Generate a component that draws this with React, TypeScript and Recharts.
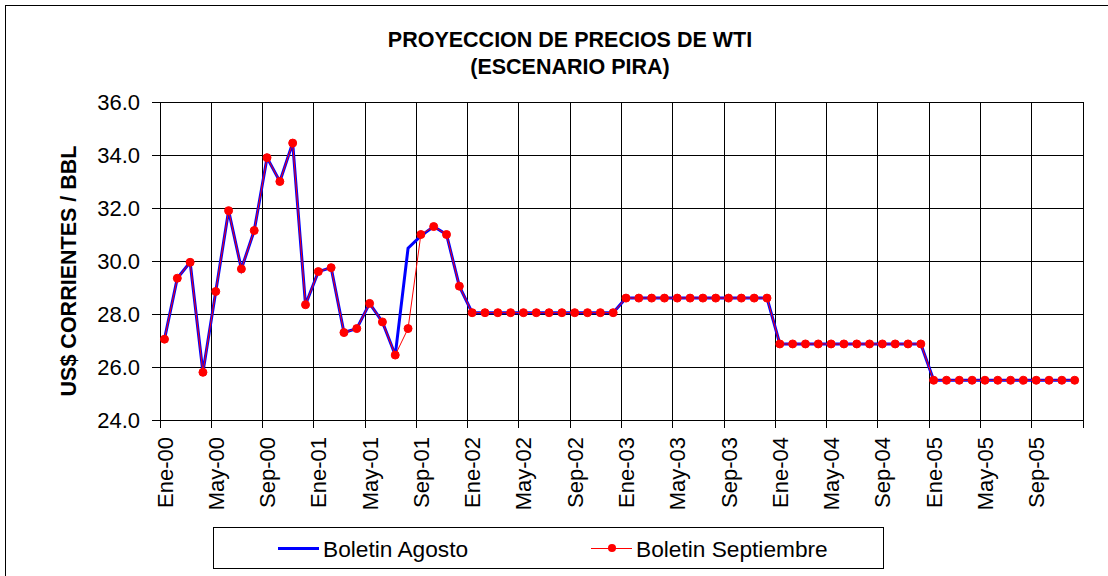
import React from 'react';
import { LineChart, Line, XAxis, YAxis, CartesianGrid } from 'recharts';

const monthNames = ['Ene', 'Feb', 'Mar', 'Abr', 'May', 'Jun', 'Jul', 'Ago', 'Sep', 'Oct', 'Nov', 'Dic'];
const years = ['00', '01', '02', '03', '04', '05'];

const xTickLabels = [
  'Ene-00', 'May-00', 'Sep-00', 'Ene-01', 'May-01', 'Sep-01',
  'Ene-02', 'May-02', 'Sep-02', 'Ene-03', 'May-03', 'Sep-03',
  'Ene-04', 'May-04', 'Sep-04', 'Ene-05', 'May-05', 'Sep-05',
];

const yTicks = [24, 26, 28, 30, 32, 34, 36];

const boletinSeptiembre = [
  27.05, 29.35, 29.95, 25.8, 28.85, 31.9, 29.7, 31.15, 33.9, 33.0, 34.45, 28.35,
  29.6, 29.75, 27.3, 27.45, 28.4, 27.7, 26.45, 27.45, 31.0, 31.3, 31.0, 29.05,
  28.05, 28.05, 28.05, 28.05, 28.05, 28.05, 28.05, 28.05, 28.05, 28.05, 28.05, 28.05,
  28.6, 28.6, 28.6, 28.6, 28.6, 28.6, 28.6, 28.6, 28.6, 28.6, 28.6, 28.6,
  26.87, 26.87, 26.87, 26.87, 26.87, 26.87, 26.87, 26.87, 26.87, 26.87, 26.87, 26.87,
  25.5, 25.5, 25.5, 25.5, 25.5, 25.5, 25.5, 25.5, 25.5, 25.5, 25.5, 25.5,
];

const boletinAgosto = [
  27.05, 29.35, 29.95, 25.8, 28.85, 31.9, 29.7, 31.15, 33.9, 33.0, 34.45, 28.35,
  29.6, 29.75, 27.3, 27.45, 28.4, 27.7, 26.45, 30.48, 30.95, 31.3, 31.0, 29.05,
  28.05, 28.05, 28.05, 28.05, 28.05, 28.05, 28.05, 28.05, 28.05, 28.05, 28.05, 28.05,
  28.6, 28.6, 28.6, 28.6, 28.6, 28.6, 28.6, 28.6, 28.6, 28.6, 28.6, 28.6,
  26.87, 26.87, 26.87, 26.87, 26.87, 26.87, 26.87, 26.87, 26.87, 26.87, 26.87, 26.87,
  25.5, 25.5, 25.5, 25.5, 25.5, 25.5, 25.5, 25.5, 25.5, 25.5, 25.5, 25.5,
];

const categories: string[] = [];
years.forEach((y) => monthNames.forEach((m) => categories.push(`${m}-${y}`)));

const data = categories.map((c, i) => ({
  x: i + 0.35,
  month: c,
  agosto: boletinAgosto[i],
  septiembre: boletinSeptiembre[i],
}));

const xTicks = [...xTickLabels.map((_, i) => i * 4), categories.length];

const FONT = '"Liberation Sans", Arial, Helvetica, sans-serif';

const XTick = (props: any) => {
  const { x, y, payload } = props;
  const label = xTickLabels[payload.value / 4];
  if (!label) return null;
  return (
    <g transform={`translate(${x},${y})`}>
      <text
        transform="rotate(-90)"
        x={-7}
        y={12.5}
        textAnchor="end"
        fontFamily={FONT}
        fontSize={22}
        fill="#000"
      >
        {label}
      </text>
    </g>
  );
};

const AxisTitle = () => (
  <text
    transform="translate(76,271) rotate(-90)"
    textAnchor="middle"
    fontFamily={FONT}
    fontSize={21.5}
    fontWeight="bold"
    fill="#000"
  >
    US$ CORRIENTES / BBL
  </text>
);

export default function App() {
  return (
    <div style={{ position: 'absolute', left: 0, top: 0, width: 1108, height: 576, background: '#fff', overflow: 'hidden' }}>
      <div
        style={{
          position: 'absolute', left: 5, top: 5, width: 1120, height: 600,
          borderLeft: '1px solid #000', borderTop: '1px solid #000',
        }}
      />
      <div
        style={{
          position: 'absolute', left: 0, top: 27, width: 1140, textAlign: 'center',
          fontFamily: FONT, fontWeight: 'bold', fontSize: 21.5, lineHeight: '27px', color: '#000',
        }}
      >
        <div>PROYECCION DE PRECIOS DE WTI</div>
        <div>(ESCENARIO PIRA)</div>
      </div>
      <div style={{ position: 'absolute', left: 0, top: 0 }}>
        <LineChart
          width={1108}
          height={576}
          data={data}
          margin={{ top: 102, right: 25, left: 60, bottom: 56 }}
        >
          <CartesianGrid stroke="#000" strokeWidth={1} shapeRendering="crispEdges" />
          <XAxis
            dataKey="x"
            type="number"
            domain={[0, 72]}
            ticks={xTicks}
            interval={0}
            height={100}
            tickSize={8}
            tick={<XTick />}
            stroke="#000"
            axisLine={{ stroke: '#000', shapeRendering: 'crispEdges' }}
            tickLine={{ stroke: '#000', shapeRendering: 'crispEdges' }}
          />
          <YAxis
            type="number"
            domain={[24, 36]}
            ticks={yTicks}
            interval={0}
            width={100}
            tickSize={8}
            tickMargin={12}
            tickFormatter={(v: number) => v.toFixed(1)}
            tick={{ fontFamily: FONT, fontSize: 22, fill: '#000' }}
            axisLine={{ stroke: '#000', shapeRendering: 'crispEdges' }}
            tickLine={{ stroke: '#000', shapeRendering: 'crispEdges' }}
            label={<AxisTitle />}
          />
          <Line
            type="linear"
            dataKey="agosto"
            stroke="#0000FF"
            strokeWidth={3}
            dot={false}
            isAnimationActive={false}
          />
          <Line
            type="linear"
            dataKey="septiembre"
            stroke="#FF0000"
            strokeWidth={1}
            dot={{ r: 4, fill: '#FF0000', stroke: '#FF0000', strokeWidth: 1 }}
            isAnimationActive={false}
          />
        </LineChart>
      </div>
      <div
        style={{
          position: 'absolute', left: 213, top: 527, width: 671, height: 42,
          border: '1px solid #000', boxSizing: 'border-box', fontFamily: FONT, fontSize: 22.7, color: '#000',
        }}
      >
        <div style={{ position: 'absolute', left: 64, top: 19, width: 41, height: 3, background: '#0000FF' }} />
        <div style={{ position: 'absolute', left: 109, top: 0, lineHeight: '42px', whiteSpace: 'nowrap' }}>Boletin Agosto</div>
        <div style={{ position: 'absolute', left: 377, top: 20, width: 41, height: 1, background: '#FF0000' }} />
        <div style={{ position: 'absolute', left: 394, top: 16, width: 8, height: 8, borderRadius: 4, background: '#FF0000' }} />
        <div style={{ position: 'absolute', left: 422, top: 0, lineHeight: '42px', whiteSpace: 'nowrap' }}>Boletin Septiembre</div>
      </div>
    </div>
  );
}
